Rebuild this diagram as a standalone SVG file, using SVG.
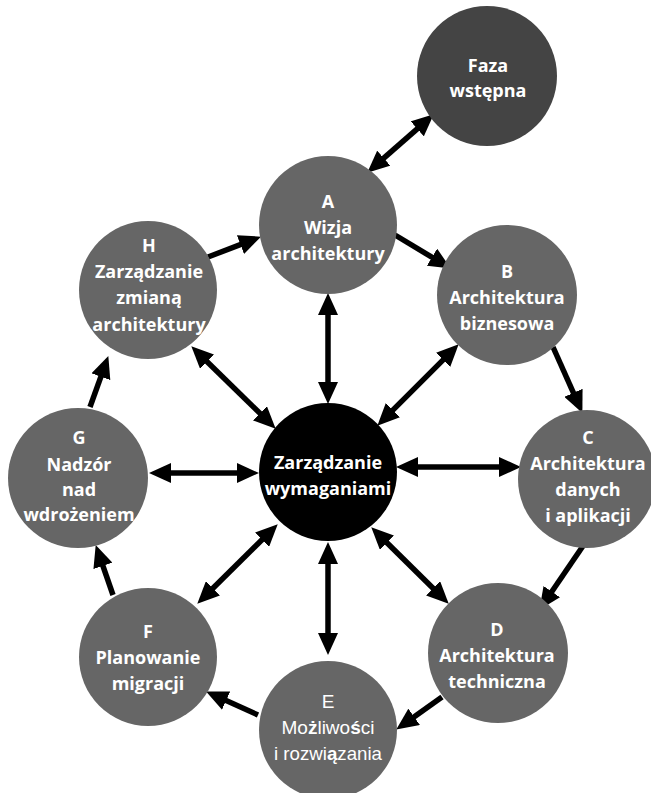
<svg xmlns="http://www.w3.org/2000/svg" width="651" height="793" viewBox="0 0 651 793">
<style>
.n{fill:#666666}
.t{font-family:"Open Sans","Liberation Sans",sans-serif;font-weight:700;font-size:18px;fill:#ffffff;text-anchor:middle}
.e{font-family:"Liberation Sans",Arial,sans-serif;font-weight:400;font-size:19px;fill:#ffffff;text-anchor:middle}
.c line{stroke:#000;stroke-width:5.5;fill:none}
.s{marker-end:url(#ah)}
.d{marker-start:url(#ah);marker-end:url(#ah)}
</style>
<defs>
<marker id="ah" viewBox="0 0 22 20" refX="11" refY="10" markerWidth="22" markerHeight="20" markerUnits="userSpaceOnUse" orient="auto-start-reverse">
<path d="M0,0 L22,10 L0,20 z" fill="#000"/>
</marker>
</defs>
<rect width="651" height="793" fill="#ffffff"/>
<g id="connectors" class="c">
<line class="d" x1="375.5" y1="165.4" x2="425.5" y2="121.6"/>
<line class="s" x1="395" y1="235" x2="441.4" y2="262.9"/>
<line class="s" x1="553" y1="347" x2="577.9" y2="402.9"/>
<line class="s" x1="585" y1="543" x2="545.6" y2="600.7"/>
<line class="s" x1="442" y1="697" x2="405.2" y2="723.2"/>
<line class="s" x1="258" y1="715" x2="216.1" y2="696.1"/>
<line class="s" x1="113" y1="595" x2="99.3" y2="555.4"/>
<line class="s" x1="90" y1="407" x2="104.6" y2="366.4"/>
<line class="s" x1="208" y1="257" x2="250.7" y2="240.6"/>
<line class="d" x1="328" y1="304" x2="328" y2="393"/>
<line class="d" x1="450.9" y1="352.1" x2="385.1" y2="417.9"/>
<line class="d" x1="510" y1="467" x2="407" y2="467"/>
<line class="d" x1="379.1" y1="535" x2="440.9" y2="596"/>
<line class="d" x1="328" y1="553" x2="328" y2="644"/>
<line class="d" x1="269.9" y1="532" x2="205.1" y2="596"/>
<line class="d" x1="160" y1="473" x2="248" y2="473"/>
<line class="d" x1="199.2" y1="354" x2="267.8" y2="421"/>
</g>
<g id="faza">
<circle cx="487" cy="76" r="70" fill="#444444"/>
<text class="t"><tspan x="488" y="72">Faza</tspan><tspan x="488" y="97">wstępna</tspan></text>
</g>
<g id="A">
<circle class="n" cx="328" cy="225" r="69"/>
<text class="t"><tspan x="328" y="208">A</tspan><tspan x="328" y="234">Wizja</tspan><tspan x="328" y="260">architektury</tspan></text>
</g>
<g id="B">
<circle class="n" cx="507" cy="295" r="70"/>
<text class="t"><tspan x="507" y="278">B</tspan><tspan x="507" y="304">Architektura</tspan><tspan x="507" y="330">biznesowa</tspan></text>
</g>
<g id="C">
<circle class="n" cx="587" cy="479" r="69"/>
<text class="t"><tspan x="588" y="444">C</tspan><tspan x="588" y="470">Architektura</tspan><tspan x="588" y="496">danych</tspan><tspan x="588" y="522">i aplikacji</tspan></text>
</g>
<g id="D">
<circle class="n" cx="498" cy="653" r="70"/>
<text class="t"><tspan x="497" y="636">D</tspan><tspan x="497" y="662">Architektura</tspan><tspan x="497" y="688">techniczna</tspan></text>
</g>
<g id="E">
<circle class="n" cx="328" cy="730" r="69"/>
<text class="e"><tspan x="328" y="708">E</tspan><tspan x="328" y="734" textLength="93" lengthAdjust="spacingAndGlyphs">Mo<tspan font-weight="700">ż</tspan>liwo<tspan font-weight="700">ś</tspan>ci</tspan><tspan x="328" y="760" textLength="108" lengthAdjust="spacingAndGlyphs">i rozwi<tspan font-weight="700">ą</tspan>zania</tspan></text>
</g>
<g id="F">
<circle class="n" cx="148" cy="657" r="69"/>
<text class="t"><tspan x="148" y="638">F</tspan><tspan x="148" y="664">Planowanie</tspan><tspan x="148" y="690">migracji</tspan></text>
</g>
<g id="G">
<circle class="n" cx="78" cy="478" r="70"/>
<text class="t"><tspan x="79" y="444">G</tspan><tspan x="79" y="471">Nadzór</tspan><tspan x="79" y="496">nad</tspan><tspan x="79" y="521">wdrożeniem</tspan></text>
</g>
<g id="H">
<circle class="n" cx="148" cy="290" r="69"/>
<text class="t"><tspan x="149" y="252">H</tspan><tspan x="149" y="278">Zarządzanie</tspan><tspan x="149" y="304">zmianą</tspan><tspan x="149" y="331">architektury</tspan></text>
</g>
<g id="center">
<circle cx="328" cy="472" r="69" fill="#000000"/>
<text class="t"><tspan x="328" y="469">Zarządzanie</tspan><tspan x="328" y="495">wymaganiami</tspan></text>
</g>
</svg>
